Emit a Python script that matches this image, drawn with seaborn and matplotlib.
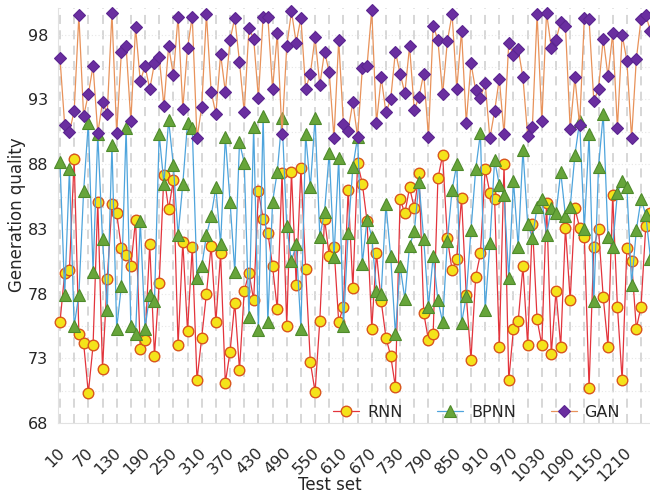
import numpy as np
import pandas as pd
import matplotlib
matplotlib.use("Agg")
import matplotlib.pyplot as plt
import matplotlib.transforms as mtransforms
import seaborn as sns

# ---------------- data ----------------
test_set = list(range(10, 1270, 10))

rnn = [75.8, 79.6, 79.8, 88.4, 74.9, 74.2, 70.3, 74.0, 85.1, 72.2,
       79.1, 84.9, 84.2, 81.5, 81.0, 80.1, 83.7, 73.7, 74.4, 81.8,
       73.2, 78.8, 87.2, 84.5, 86.8, 74.0, 82.0, 75.1, 81.6, 71.3,
       74.6, 78.0, 81.7, 75.8, 81.1, 71.1, 73.5, 77.3, 72.1, 78.2,
       79.6, 77.5, 85.9, 83.8, 82.7, 80.1, 76.8, 87.3, 75.5, 87.4,
       78.7, 87.7, 79.9, 72.7, 70.4, 75.9, 83.8, 80.9, 81.6, 75.8,
       77.0, 86.0, 78.4, 88.1, 86.5, 83.6, 75.3, 81.1, 77.4, 74.6,
       73.2, 70.8, 85.3, 84.2, 86.2, 84.6, 87.3, 76.5, 74.4, 74.9,
       86.9, 88.7, 82.3, 79.8, 80.7, 85.4, 77.9, 72.9, 79.3, 81.1,
       87.6, 85.8, 85.3, 73.9, 88.0, 71.3, 75.3, 75.9, 80.1, 74.0,
       83.4, 76.0, 74.0, 85.0, 73.3, 78.2, 73.9, 83.1, 77.5, 84.6,
       83.1, 82.4, 70.7, 81.6, 83.0, 77.7, 73.9, 85.6, 77.0, 71.3,
       81.5, 80.5, 75.3, 77.0, 83.2, 84.2]

bpnn = [88.2, 77.9, 87.6, 75.5, 77.9, 85.9, 91.2, 79.7, 90.3, 82.2,
        76.7, 89.5, 75.3, 78.6, 90.8, 75.5, 74.9, 83.6, 75.3, 77.9,
        77.4, 90.3, 86.5, 91.4, 87.9, 82.5, 86.5, 91.2, 90.8, 79.2,
        80.1, 82.5, 84.0, 86.2, 81.8, 90.1, 85.1, 79.7, 89.7, 88.1,
        76.2, 90.9, 75.2, 91.7, 75.8, 85.1, 87.4, 91.6, 83.2, 80.5,
        81.8, 75.3, 90.3, 86.2, 91.6, 82.4, 84.3, 88.9, 80.8, 88.5,
        75.5, 82.7, 87.8, 90.1, 80.3, 83.7, 82.4, 78.2, 78.0, 84.9,
        80.9, 74.9, 80.1, 77.6, 81.7, 82.8, 86.6, 82.2, 77.0, 80.9,
        77.5, 75.8, 82.1, 86.0, 88.0, 75.7, 77.8, 82.9, 87.6, 90.4,
        76.7, 81.9, 88.3, 86.4, 85.6, 79.2, 86.7, 81.6, 89.1, 83.4,
        82.3, 84.7, 85.3, 82.5, 84.6, 84.2, 87.4, 84.0, 84.7, 88.7,
        91.3, 83.0, 90.3, 77.4, 87.8, 91.9, 82.4, 81.6, 85.8, 86.7,
        86.2, 78.7, 82.9, 85.3, 84.1, 80.7]

gan = [96.2, 91.0, 90.5, 92.1, 99.5, 91.7, 93.4, 95.6, 90.4, 92.8,
       91.9, 99.7, 90.4, 96.7, 97.1, 91.3, 98.6, 94.4, 95.6, 93.8,
       95.8, 96.3, 92.5, 97.1, 94.9, 99.4, 92.3, 97.0, 99.4, 90.0,
       92.4, 99.6, 93.6, 91.9, 96.5, 93.6, 97.6, 99.3, 95.9, 92.0,
       98.5, 97.7, 93.1, 99.4, 99.4, 93.8, 98.1, 90.3, 97.1, 99.8,
       97.4, 99.3, 93.8, 95.0, 97.8, 94.1, 96.7, 95.1, 90.0, 97.6,
       91.1, 90.6, 92.8, 90.1, 95.4, 95.6, 99.9, 91.2, 94.7, 92.0,
       93.0, 96.7, 95.0, 93.5, 97.1, 92.2, 93.2, 95.0, 90.1, 98.7,
       97.6, 93.4, 97.5, 99.6, 93.8, 98.3, 91.2, 95.8, 93.7, 93.1,
       94.3, 90.0, 92.1, 94.6, 90.3, 97.4, 96.4, 96.9, 94.7, 90.2,
       90.9, 99.6, 91.3, 99.7, 97.0, 97.6, 99.0, 98.7, 90.7, 94.7,
       91.0, 99.3, 99.2, 92.9, 93.8, 97.7, 94.8, 98.1, 90.8, 98.0,
       96.0, 90.0, 96.1, 99.2, 99.5, 98.3]

x_tick_labels = list(range(10, 1211, 60))
y_ticks = [68, 73, 78, 83, 88, 93, 98]

# ---------------- figure ----------------
sns.set_style("white")
plt.rcParams['font.family'] = ['DejaVu Sans']

W, H = 650, 498
fig = plt.figure(figsize=(W / 100, H / 100), dpi=100)

x_left, x_right = 5.8, 1275.0
px_per_unit = 0.4724
ax_w = (x_right - x_left) * px_per_unit
ax = fig.add_axes([58 / W, 75 / H, ax_w / W, 415 / H])

df = pd.DataFrame({"Test set": test_set, "RNN": rnn, "BPNN": bpnn, "GAN": gan})

sns.lineplot(data=df, x="Test set", y="RNN", ax=ax, label="RNN",
             color="#e3343c", linewidth=0.9, marker="o", markersize=7.6,
             markerfacecolor="#f4e31a", markeredgecolor="#d9561c",
             markeredgewidth=1.0, clip_on=False, zorder=3)
sns.lineplot(data=df, x="Test set", y="BPNN", ax=ax, label="BPNN",
             color="#4ea4dc", linewidth=0.9, marker="^", markersize=9.2,
             markerfacecolor="#67a53a", markeredgecolor="#4e8a2b",
             markeredgewidth=0.8, clip_on=False, zorder=4)
sns.lineplot(data=df, x="Test set", y="GAN", ax=ax, label="GAN",
             color="#e8925a", linewidth=0.9, marker="D", markersize=6.6,
             markerfacecolor="#6a2ea0", markeredgecolor="#5b2590",
             markeredgewidth=0.8, clip_on=False, zorder=5)

ax.set_xlim(x_left, x_right)
ax.set_ylim(68, 100.07)

ax.set_xticks(x_tick_labels)
ax.set_xticks(list(range(40, 1270, 60)), minor=True)
ax.set_yticks(y_ticks)
ax.set_yticklabels([str(v) for v in y_ticks], fontsize=11.5)
ax.set_yticks([70.5, 75.5, 80.5, 85.5, 90.5, 95.5], minor=True)
ax.tick_params(axis="both", which="both", length=0)
ax.tick_params(axis="x", pad=13)
ax.tick_params(axis="y", pad=7)
ax.set_xticklabels([str(v) for v in x_tick_labels], rotation=45,
                   ha="right", va="top", rotation_mode="anchor", fontsize=11.5)
offset = mtransforms.ScaledTranslation(-3 / 100, -4 / 100, fig.dpi_scale_trans)
for lbl in ax.get_xticklabels():
    lbl.set_transform(lbl.get_transform() + offset)

ax.grid(True, axis="x", which="both", color="#d4d4d4", linestyle=(0, (5, 3.5)),
        linewidth=1.3, zorder=0)
ax.grid(True, axis="y", which="both", color="#e6e6e6", linestyle=(0, (1, 2)),
        linewidth=0.8, zorder=0)
ax.set_axisbelow(True)

for side in ["top", "right"]:
    ax.spines[side].set_visible(False)
for side in ["left", "bottom"]:
    ax.spines[side].set_color("#e2e2e2")
    ax.spines[side].set_linewidth(0.8)

ax.set_xlabel("Test set", fontsize=12)
ax.set_ylabel("Generation quality", fontsize=12)
ax.xaxis.set_label_coords(330 / W, 4 / H, transform=fig.transFigure)
ax.xaxis.label.set_va("bottom")
ax.yaxis.set_label_coords(26 / W, (H - 215) / H, transform=fig.transFigure)

leg = ax.legend(loc="center right", bbox_to_anchor=(620 / W, (H - 412) / H),
                bbox_transform=fig.transFigure, ncol=3, frameon=False,
                fontsize=11.5, handlelength=1.6, columnspacing=2.2,
                handletextpad=0.5, borderpad=0, borderaxespad=0)

fig.savefig("out.png", dpi=100)
